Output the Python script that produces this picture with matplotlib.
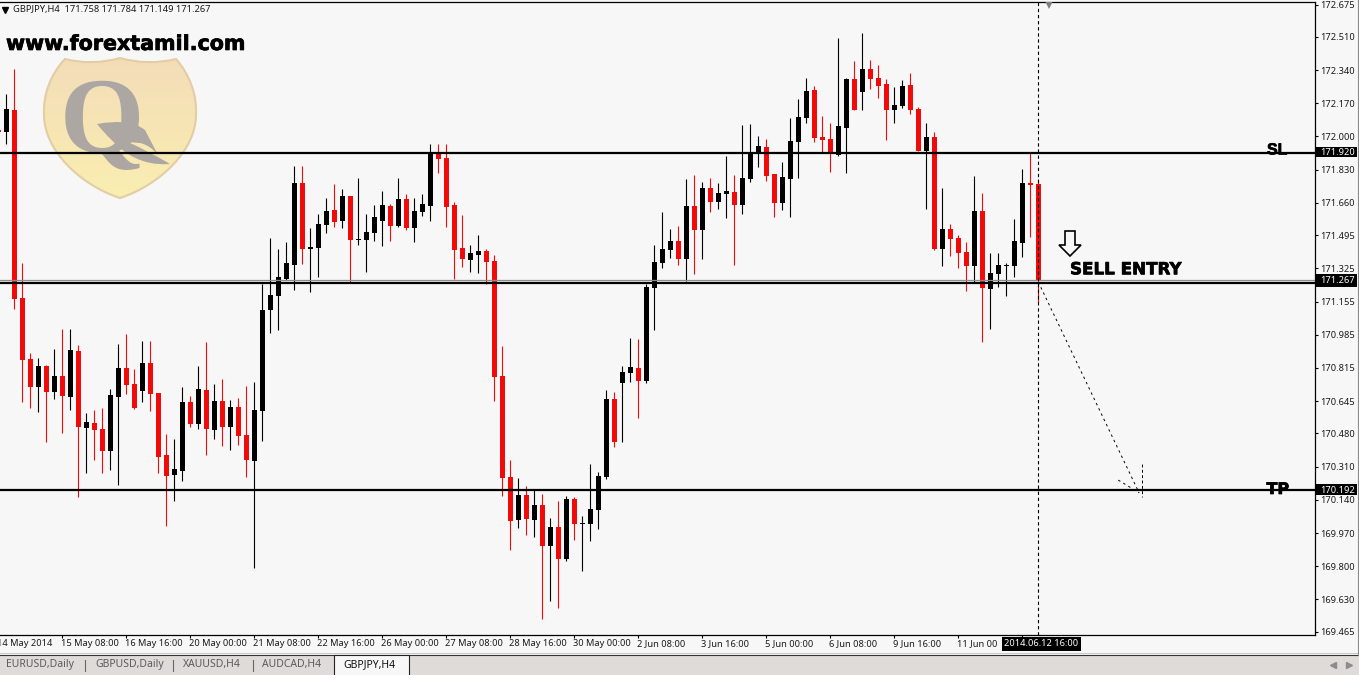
import numpy as np
import matplotlib
matplotlib.use("Agg")
import matplotlib.pyplot as plt
import matplotlib.patheffects as pe
from matplotlib.path import Path
from matplotlib.patches import PathPatch, Polygon, Rectangle
from matplotlib.transforms import blended_transform_factory

# H4 candles, first entry is the one cut by the left edge
opens = [172.033,
    172.023, 172.136, 171.173, 170.861, 170.718, 170.825, 170.692, 170.774, 170.666, 170.902,
    170.508, 170.533, 170.503, 170.390, 170.666, 170.815, 170.733, 170.697, 170.840, 170.687,
    170.369, 170.267, 170.287, 170.641, 170.528, 170.702, 170.497, 170.646, 170.513, 170.615,
    170.472, 170.339, 170.595, 171.112, 171.184, 171.271, 171.342, 171.762, 171.424, 171.430,
    171.547, 171.624, 171.568, 171.696, 171.470, 171.470, 171.506, 171.568, 171.645, 171.542,
    171.680, 171.532, 171.614, 171.645, 171.916, 171.890, 171.650, 171.430, 171.368, 171.393,
    171.414, 171.363, 170.774, 170.257, 170.037, 170.165, 170.037, 170.113, 169.904, 170.001,
    169.837, 170.144, 170.016, 170.016, 170.088, 170.257, 170.656, 170.738, 170.789, 170.815,
    170.748, 171.224, 171.352, 171.419, 171.465, 171.373, 171.645, 171.521, 171.736, 171.665,
    171.706, 171.716, 171.650, 171.782, 171.916, 171.946, 171.808, 171.660, 171.782, 171.972,
    172.094, 172.238, 171.998, 171.987, 171.905, 172.043, 172.295, 172.228, 172.346, 172.300,
    172.269, 172.136, 172.156, 172.264, 172.141, 171.926, 171.998, 171.424, 171.527, 171.481,
    171.409, 171.337, 171.619, 171.219, 171.296, 171.337, 171.337, 171.455, 171.762, 171.758]
highs = [172.033,
    172.218, 172.346, 171.352, 170.892, 170.866, 170.830, 170.912, 171.015, 171.015, 170.933,
    170.585, 170.600, 170.610, 170.707, 170.938, 170.989, 170.810, 170.953, 170.953, 170.687,
    170.477, 170.451, 170.718, 170.671, 170.825, 170.948, 170.733, 170.759, 170.651, 170.661,
    170.723, 170.743, 171.245, 171.481, 171.424, 171.460, 171.849, 171.849, 171.532, 171.604,
    171.685, 171.757, 171.731, 171.696, 171.788, 171.604, 171.650, 171.721, 171.655, 171.788,
    171.706, 171.685, 171.706, 171.962, 171.962, 171.962, 171.665, 171.598, 171.445, 171.496,
    171.424, 171.393, 170.927, 170.344, 170.252, 170.211, 170.190, 170.170, 170.047, 170.134,
    170.160, 170.154, 170.057, 170.323, 170.282, 170.702, 170.692, 170.825, 170.968, 170.963,
    171.245, 171.445, 171.614, 171.527, 171.542, 171.782, 171.803, 171.767, 171.788, 171.762,
    171.900, 171.803, 172.059, 172.064, 172.003, 171.987, 171.808, 171.870, 172.094, 172.192,
    172.300, 172.259, 172.105, 172.069, 172.504, 172.300, 172.387, 172.530, 172.392, 172.366,
    172.295, 172.254, 172.289, 172.325, 172.151, 172.069, 172.023, 171.736, 171.552, 171.496,
    171.460, 171.798, 171.711, 171.404, 171.404, 171.352, 171.578, 171.834, 171.916, 171.784]
lows = [172.023,
    171.962, 171.117, 170.641, 170.610, 170.590, 170.436, 170.656, 170.482, 170.600, 170.154,
    170.277, 170.344, 170.277, 170.293, 170.216, 170.682, 170.605, 170.641, 170.595, 170.277,
    170.006, 170.134, 170.236, 170.513, 170.503, 170.369, 170.451, 170.415, 170.395, 170.421,
    170.257, 169.791, 170.441, 170.994, 171.009, 171.265, 171.214, 171.347, 171.204, 171.281,
    171.506, 171.537, 171.532, 171.255, 171.445, 171.306, 171.465, 171.440, 171.465, 171.537,
    171.521, 171.460, 171.593, 171.568, 171.813, 171.537, 171.271, 171.332, 171.306, 171.301,
    171.245, 170.646, 170.160, 169.883, 169.996, 169.960, 169.950, 169.530, 169.622, 169.586,
    169.827, 169.934, 169.775, 169.929, 169.991, 170.247, 170.410, 170.436, 170.743, 170.559,
    170.738, 171.009, 171.327, 171.378, 171.342, 171.260, 171.296, 171.373, 171.614, 171.629,
    171.583, 171.342, 171.604, 171.767, 171.844, 171.772, 171.588, 171.624, 171.588, 171.788,
    172.069, 171.972, 171.916, 171.818, 171.900, 171.813, 172.136, 172.136, 172.243, 172.197,
    171.982, 172.069, 172.146, 172.115, 171.926, 171.629, 171.419, 171.337, 171.388, 171.327,
    171.209, 171.250, 170.948, 171.015, 171.230, 171.184, 171.281, 171.383, 171.486, 171.149]
closes = [172.023,
    172.141, 171.168, 170.856, 170.718, 170.825, 170.692, 170.774, 170.671, 170.907, 170.513,
    170.538, 170.497, 170.390, 170.677, 170.815, 170.728, 170.610, 170.840, 170.682, 170.359,
    170.262, 170.298, 170.641, 170.528, 170.707, 170.503, 170.646, 170.513, 170.615, 170.467,
    170.344, 170.600, 171.112, 171.189, 171.281, 171.352, 171.762, 171.424, 171.435, 171.552,
    171.619, 171.562, 171.696, 171.470, 171.476, 171.511, 171.588, 171.650, 171.542, 171.680,
    171.532, 171.619, 171.655, 171.916, 171.885, 171.639, 171.419, 171.373, 171.404, 171.414,
    171.358, 170.769, 170.252, 170.031, 170.165, 170.042, 170.113, 169.904, 170.001, 169.837,
    170.144, 170.016, 170.021, 170.093, 170.262, 170.656, 170.436, 170.794, 170.820, 170.748,
    171.230, 171.358, 171.424, 171.465, 171.373, 171.645, 171.521, 171.736, 171.665, 171.711,
    171.721, 171.650, 171.788, 171.916, 171.952, 171.798, 171.660, 171.793, 171.977, 172.099,
    172.233, 171.993, 171.982, 171.911, 172.054, 172.295, 172.136, 172.346, 172.295, 172.259,
    172.136, 172.161, 172.259, 172.136, 171.926, 171.998, 171.424, 171.527, 171.476, 171.404,
    171.337, 171.619, 171.224, 171.301, 171.342, 171.342, 171.465, 171.762, 171.752, 171.267]

price_ticks = [172.675, 172.510, 172.340, 172.170, 172.000, 171.830, 171.660, 171.495, 171.325, 171.155,
               170.985, 170.815, 170.645, 170.480, 170.310, 170.140, 169.970, 169.800, 169.630, 169.465]
time_tick_bars = [-1, 7, 15, 23, 31, 39, 47, 55, 63, 71, 79, 87, 95, 103, 111, 119, 127]
time_tick_labels = ["14 May 2014", "15 May 08:00", "16 May 16:00", "20 May 00:00", "21 May 08:00",
                    "22 May 16:00", "26 May 00:00", "27 May 08:00", "28 May 16:00", "30 May 00:00",
                    "2 Jun 08:00", "3 Jun 16:00", "5 Jun 00:00", "6 Jun 08:00", "9 Jun 16:00",
                    "11 Jun 00", ""]

sl_price = 171.917
entry_price = 171.252
bid_price = 171.264
tp_price = 170.190
cursor_bar = 129

tabs = ["EURUSD,Daily", "GBPUSD,Daily", "XAUUSD,H4", "AUDCAD,H4"]

plt.rcParams['font.family'] = ['Noto Sans', 'DejaVu Sans']

BG = '#f8f7f7'
RED = '#f00a0a'
SMALL = 6.7
W, H = 1359, 675

fig = plt.figure(figsize=(W / 100, H / 100), dpi=100, facecolor=BG)

# back layer in pixel units: logo, tab bar, outline arrow
back = fig.add_axes([0, 0, 1, 1], zorder=0)
back.set_xlim(0, W)
back.set_ylim(H, 0)
back.axis('off')

shield_path = Path(
    [(65, 59), (92, 66), (120, 58), (148, 66), (176, 59),
     (190, 75), (197, 95), (196, 115), (196, 150), (160, 185), (120, 198),
     (80, 185), (44, 150), (44, 115), (43, 95), (50, 75), (65, 59), (65, 59)],
    [Path.MOVETO, Path.CURVE3, Path.CURVE3, Path.CURVE3, Path.CURVE3,
     Path.CURVE4, Path.CURVE4, Path.CURVE4, Path.CURVE4, Path.CURVE4, Path.CURVE4,
     Path.CURVE4, Path.CURVE4, Path.CURVE4, Path.CURVE4, Path.CURVE4, Path.CURVE4, Path.CLOSEPOLY])
shield = PathPatch(shield_path, facecolor='none', edgecolor='#e2cda4', lw=1.5, zorder=3)
back.add_patch(shield)
top_col = np.array([243, 221, 184]) / 255
bot_col = np.array([250, 238, 176]) / 255
grad = np.linspace(0, 1, 100)[:, None, None]
grad_img = top_col[None, None, :] * (1 - grad) + bot_col[None, None, :] * grad
im = back.imshow(grad_img, extent=(44, 196, 198, 58), aspect='auto', zorder=2)
im.set_clip_path(shield)
back.set_xlim(0, W)
back.set_ylim(H, 0)

Q_GREY = '#aca7a3'
back.text(102, 126, "Q", family='Liberation Serif', fontweight='bold', fontsize=78,
          color=Q_GREY, ha='center', va='center', zorder=4)
swoosh = Path(
    [(97, 124), (130, 118), (145, 130), (158, 155), (150, 145), (140, 143), (128, 142),
     (150, 152), (170, 164), (170, 164), (145, 166), (125, 152), (110, 140), (97, 124)],
    [Path.MOVETO, Path.CURVE3, Path.CURVE3, Path.LINETO, Path.CURVE3, Path.CURVE3, Path.LINETO,
     Path.CURVE3, Path.CURVE3, Path.LINETO, Path.CURVE3, Path.CURVE3, Path.CURVE3, Path.CURVE3])
back.add_patch(PathPatch(swoosh, facecolor=Q_GREY, edgecolor='none', zorder=4))

# hollow arrow above SELL ENTRY
back.add_patch(Polygon([(1065, 231), (1075, 231), (1075, 245), (1081, 245), (1070, 256), (1059, 245), (1065, 245)],
                       closed=True, facecolor=BG, edgecolor='black', lw=1.2, zorder=3))

# tab bar
back.add_patch(Rectangle((0, 655.5), W, 20, facecolor='#dedbd8', edgecolor='none', zorder=1))
back.plot([0, W], [655, 655], color='#333333', lw=0.8, zorder=2)
back.plot([0, W], [653, 653], color='#c8c8c8', lw=0.7, zorder=2)
back.plot([1358, 1358], [0, 655], color='#8a8a8a', lw=0.8, zorder=2)
back.add_patch(Rectangle((333.5, 655), 75.5, 21, facecolor=BG, edgecolor='#222222', lw=0.8, zorder=3))
for name, tx in zip(tabs, [6, 95, 183, 262]):
    back.text(tx, 665, name, fontsize=7.5, color='#5c5c5c', va='center', ha='left', zorder=4)
for sx in [85, 173, 253]:
    back.plot([sx, sx], [660, 671], color='#666666', lw=0.8, zorder=2)
back.text(343, 665, "GBPJPY,H4", fontsize=7.5, color='#111111', va='center', ha='left', zorder=4)
back.plot([1332.7], [664.7], marker='<', ms=4, color='#8c8c8c', zorder=3)
back.plot([1349], [664.7], marker='>', ms=4, color='#8c8c8c', zorder=3)

# main chart, x is bar number, one bar is 8 pixels
ax = fig.add_axes([0, 1 - 635 / H, 1314.7 / W, 633.5 / H], zorder=1)
ax.patch.set_alpha(0)
ax.set_xlim(-0.7875, 163.55)
ax.set_ylim(169.448, 172.691)

opens_a = np.array(opens)
closes_a = np.array(closes)
bars = np.arange(-1, len(opens) - 1)
colors = ['black' if c >= o else RED for o, c in zip(opens_a, closes_a)]

ax.vlines(bars, lows, highs, colors=colors, lw=0.8, zorder=2)
ax.bar(bars, np.abs(closes_a - opens_a), bottom=np.minimum(opens_a, closes_a), width=0.625,
       color=colors, linewidth=0, zorder=3)

ax.axhline(bid_price, color='#8c8c8c', lw=0.9, zorder=4)
for level in [sl_price, entry_price, tp_price]:
    ax.axhline(level, color='black', lw=1.6, zorder=5)

ax.axvline(cursor_bar, color='black', lw=0.8, ls=(0, (3, 2.5)), zorder=6)
ax.plot([130.35], [172.685], marker='v', ms=8.5, color='#808080', mew=0, zorder=6)

# dashed arrow from the entry down to TP
dash = (0, (2.5, 3.5))
ax.plot([129, 141.6], [171.255, 170.176], color='black', lw=0.7, ls=dash, zorder=6)
ax.plot([139, 141.6], [170.241, 170.176], color='black', lw=0.7, ls=dash, zorder=6)
ax.plot([142, 142], [170.323, 170.154], color='black', lw=0.7, ls=(0, (3, 2.5)), zorder=6)

# axes frame and ticks
ax.spines['left'].set_visible(False)
for s in ['top', 'right', 'bottom']:
    ax.spines[s].set_linewidth(0.9)
ax.yaxis.tick_right()
ax.set_yticks(price_ticks, [f"{v:.3f}" for v in price_ticks])
ax.tick_params(axis='y', length=1.8, width=0.8, pad=2.5, labelsize=SMALL, labelcolor='#1a1a1a')
ax.set_xticks([b for b in time_tick_bars if b >= 0])
ax.set_xticklabels([])
ax.tick_params(axis='x', length=2.2, width=0.8)
for b, lab in zip(time_tick_bars, time_tick_labels):
    if lab:
        ax.annotate(lab, (b, 0), xycoords=('data', 'axes fraction'), xytext=(-1, -9), textcoords='offset pixels',
                    fontsize=SMALL, color='#1a1a1a', ha='left', va='center', annotation_clip=False, zorder=7)

# price boxes on the right scale
box_tf = blended_transform_factory(ax.transAxes, ax.transData)
for price, half in [(171.920, 0.0275), (171.264, 0.0335), (170.192, 0.0275)]:
    ax.add_patch(Rectangle((1.0008, price - half), 0.0316, 2 * half, transform=box_tf,
                           facecolor='black', edgecolor='none', clip_on=False, zorder=8))
for lab_price, txt in [(171.920, "171.920"), (171.264, "171.267"), (170.192, "170.192")]:
    ax.annotate(txt, (1, lab_price), xycoords=('axes fraction', 'data'), xytext=(5, -0.5), textcoords='offset pixels',
                fontsize=SMALL, color='white', ha='left', va='center', annotation_clip=False, zorder=9)

# time box over the axis labels
ax.annotate("2014.06.12 16:00", (128, 0), xycoords=('data', 'axes fraction'), xytext=(-26, -9),
            textcoords='offset pixels', fontsize=SMALL, color='white', ha='left', va='center',
            annotation_clip=False, zorder=9,
            bbox=dict(boxstyle='square,pad=0.28', facecolor='black', edgecolor='none'))

# header and drawn labels
back.plot([4.5], [10], marker='v', ms=4, color='black', zorder=4)
back.text(13, 9.5, "GBPJPY,H4  171.758 171.784 171.149 171.267", fontsize=SMALL, color='#1a1a1a',
          ha='left', va='center', zorder=4)

heavy = [pe.withStroke(linewidth=0.5, foreground='black')]
back.text(6, 50, "www.forextamil.com", family='DejaVu Sans', fontweight='bold', fontsize=14.85,
          color='black', ha='left', va='baseline', zorder=5, path_effects=heavy)
back.text(1070, 274.3, "SELL ENTRY", family='DejaVu Sans', fontweight='bold', fontsize=12.05,
          color='black', ha='left', va='baseline', zorder=5, path_effects=heavy)
back.text(1267, 154.4, "SL", family='Liberation Sans', fontweight='bold', fontsize=11.5,
          color='black', ha='left', va='baseline', zorder=5, path_effects=heavy)
back.text(1266.5, 494, "TP", family='DejaVu Sans', fontweight='bold', fontsize=11.5,
          color='black', ha='left', va='baseline', zorder=5, path_effects=heavy)

fig.savefig('out.png', dpi=100, facecolor=fig.get_facecolor())
